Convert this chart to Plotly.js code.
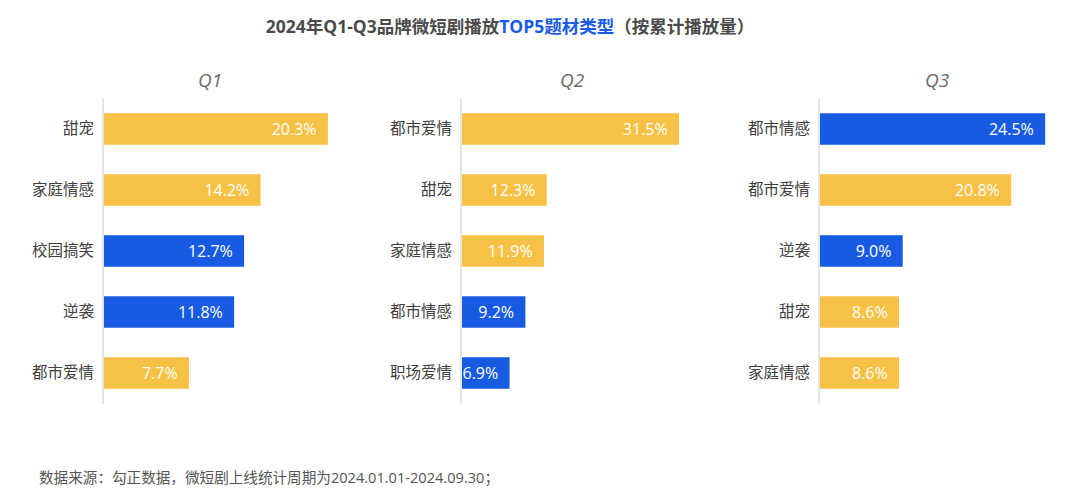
<!DOCTYPE html>
<html>
<head>
<meta charset="utf-8">
<script src="https://cdn.plot.ly/plotly-3.0.1.min.js"></script>
<style>html,body{margin:0;padding:0;background:#fff;}#chart{width:1080px;height:498px;}</style>
</head>
<body>
<div id="chart"></div>
<script>
const YELLOW = '#F6C144';
const BLUE = '#185BE3';

const q1Categories = ['甜宠', '家庭情感', '校园搞笑', '逆袭', '都市爱情'];
const q1Values = [20.3, 14.2, 12.7, 11.8, 7.7];
const q1Colors = [YELLOW, YELLOW, BLUE, BLUE, YELLOW];

const q2Categories = ['都市爱情', '甜宠', '家庭情感', '都市情感', '职场爱情'];
const q2Values = [31.5, 12.3, 11.9, 9.2, 6.9];
const q2Colors = [YELLOW, YELLOW, YELLOW, BLUE, BLUE];

const q3Categories = ['都市情感', '都市爱情', '逆袭', '甜宠', '家庭情感'];
const q3Values = [24.5, 20.8, 9.0, 8.6, 8.6];
const q3Colors = [BLUE, YELLOW, BLUE, YELLOW, YELLOW];

const panelTitles = ['Q1', 'Q2', 'Q3'];

const FONT = '"Open Sans", "Noto Sans CJK SC", sans-serif';
const W = 1080, H = 498;
const px = v => v / W;
const py = v => 1 - v / H;

function barTrace(cats, vals, colors, ax) {
  return {
    type: 'bar', orientation: 'h',
    y: cats, x: vals,
    xaxis: 'x' + ax, yaxis: 'y' + ax,
    marker: {color: colors, line: {width: 0}},
    width: 0.52,
    texttemplate: '%{x:.1f}%\u00a0\u00a0',
    textposition: 'inside',
    insidetextanchor: 'end',
    textangle: 0,
    constraintext: 'none',
    textfont: {color: '#ffffff', size: 16, family: FONT},
    hoverinfo: 'none',
    cliponaxis: false
  };
}

const data = [
  barTrace(q1Categories, q1Values, q1Colors, ''),
  barTrace(q2Categories, q2Values, q2Colors, '2'),
  barTrace(q3Categories, q3Values, q3Colors, '3')
];

const yDomain = [py(403.5), py(98.5)];
function xAxis(start, width, maxRange, anchor) {
  return {
    domain: [px(start), px(start + width)],
    range: [0, maxRange],
    showgrid: false, zeroline: false, showline: false,
    showticklabels: false, ticks: '',
    anchor: anchor, fixedrange: true
  };
}
function yAxis(anchor) {
  return {
    domain: yDomain,
    type: 'category',
    autorange: 'reversed',
    showgrid: false, zeroline: false,
    showline: true, linecolor: '#e4e4e4', linewidth: 2,
    ticks: '', ticklabelstandoff: 5,
    tickfont: {size: 15.5, color: '#404040', family: FONT},
    anchor: anchor, fixedrange: true
  };
}

const layout = {
  width: W, height: H,
  margin: {l: 0, r: 0, t: 0, b: 0},
  paper_bgcolor: '#ffffff', plot_bgcolor: 'rgba(0,0,0,0)',
  showlegend: false,
  font: {family: FONT},
  xaxis: xAxis(104, 240, 240 / 11.03, 'y'),
  yaxis: yAxis('x'),
  xaxis2: xAxis(462, 240, 240 / 6.89, 'y2'),
  yaxis2: yAxis('x2'),
  xaxis3: xAxis(820, 240, 240 / 9.19, 'y3'),
  yaxis3: yAxis('x3'),
  title: {
    text: '<b>2024年Q1-Q3品牌微短剧播放<span style="color:#1A5CE6">TOP5题材类型</span>（按累计播放量）</b>',
    font: {size: 17.5, color: '#4a4a4a', family: FONT},
    x: px(510), xanchor: 'center', xref: 'paper', y: py(27), yanchor: 'middle'
  },
  annotations: [
    {text: '<i>' + panelTitles[0] + '</i>', x: px(210), y: py(80)},
    {text: '<i>' + panelTitles[1] + '</i>', x: px(572), y: py(80)},
    {text: '<i>' + panelTitles[2] + '</i>', x: px(937), y: py(80)}
  ].map(a => Object.assign(a, {
    xref: 'paper', yref: 'paper', xanchor: 'center', yanchor: 'middle',
    showarrow: false, font: {size: 19, color: '#6a6a6a', family: FONT}
  })).concat([{
    text: '数据来源：勾正数据，微短剧上线统计周期为2024.01.01-2024.09.30；',
    xref: 'paper', yref: 'paper', x: px(37), y: py(477),
    xanchor: 'left', yanchor: 'middle', showarrow: false,
    font: {size: 14.6, color: '#555555', family: FONT}
  }])
};

Plotly.newPlot('chart', data, layout, {displayModeBar: false, staticPlot: true});
</script>
</body>
</html>
